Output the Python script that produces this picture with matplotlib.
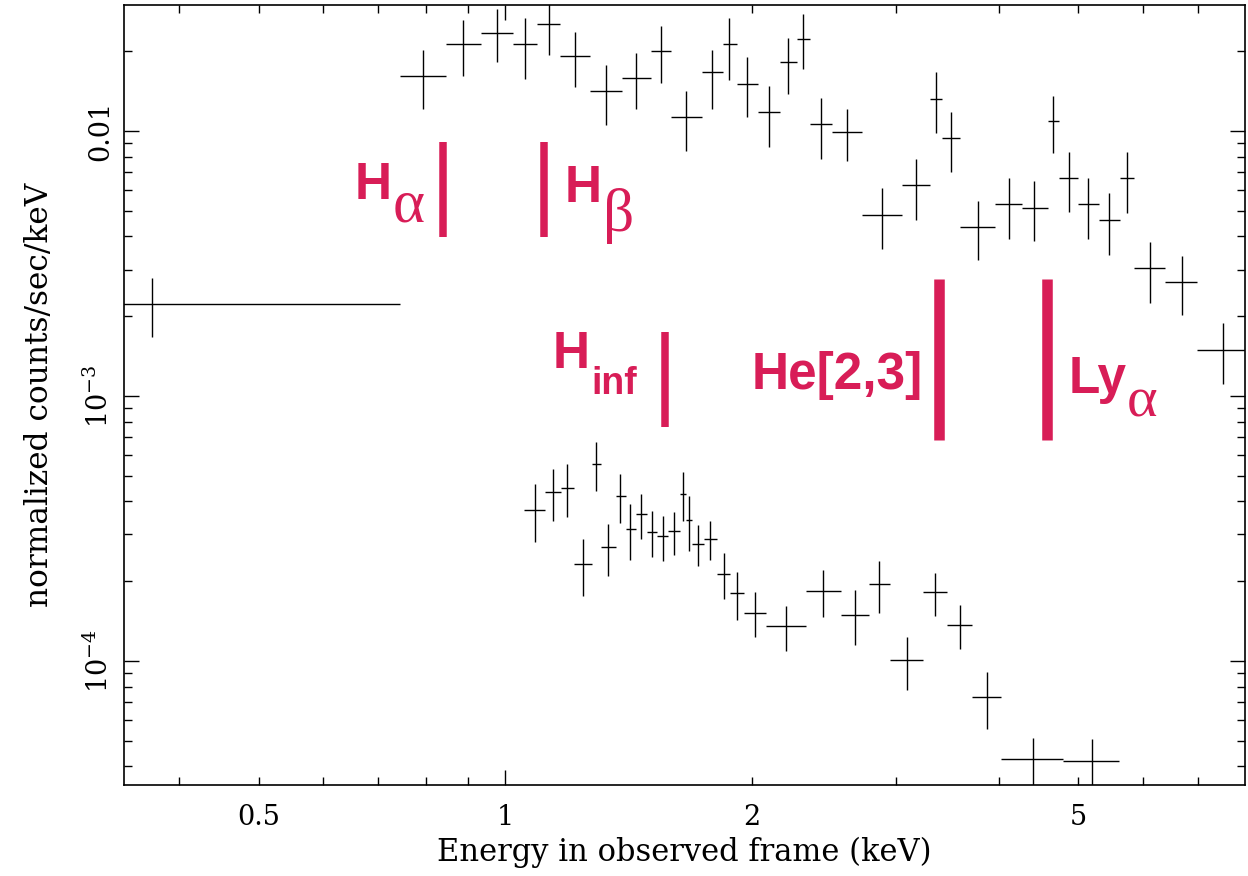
#!/usr/bin/env python3
"""
X-ray spectrum with line markers (two spectra, log-log).
"""

import matplotlib
matplotlib.use("Agg")
import numpy as np
import matplotlib.pyplot as plt
from matplotlib.ticker import LogLocator, FuncFormatter, NullFormatter

plt.rcParams["font.family"] = ["DejaVu Serif"]
plt.rcParams["mathtext.fontset"] = "dejavuserif"
plt.rcParams["axes.unicode_minus"] = False

LINE_COLOR = "#d81d57"

# upper spectrum (energy in keV, bin edges, flux and error bounds)
UPPER_ENERGY = [0.371, 0.794, 0.889, 0.978, 1.058, 1.131, 1.217, 1.328, 1.445, 1.550,
                1.662, 1.788, 1.876, 1.973, 2.099, 2.215, 2.310, 2.430, 2.614, 2.883,
                3.171, 3.354, 3.499, 3.774, 4.118, 4.417, 4.659, 4.874, 5.141, 5.454,
                5.735, 6.118, 6.692, 7.509]
UPPER_E_LO = [0.30, 0.743, 0.846, 0.934, 1.021, 1.094, 1.167, 1.270, 1.387, 1.505,
              1.592, 1.736, 1.842, 1.916, 2.032, 2.162, 2.268, 2.352, 2.502, 2.722,
              3.045, 3.294, 3.411, 3.583, 3.964, 4.265, 4.588, 4.745, 4.999, 5.295,
              5.632, 5.857, 6.390, 6.990]
UPPER_E_HI = [0.743, 0.846, 0.934, 1.021, 1.094, 1.167, 1.270, 1.387, 1.505, 1.592,
              1.736, 1.842, 1.916, 2.032, 2.162, 2.268, 2.352, 2.502, 2.722, 3.045,
              3.294, 3.411, 3.583, 3.964, 4.265, 4.588, 4.745, 4.999, 5.295, 5.632,
              5.857, 6.390, 6.990, 8.10]
UPPER_FLUX = [0.002225, 0.01613, 0.02130, 0.02343, 0.02130, 0.02534, 0.01919, 0.01415,
              0.01585, 0.02004, 0.01129, 0.01670, 0.02130, 0.01504, 0.01179, 0.01821,
              0.02224, 0.01063, 0.009913, 0.004819, 0.006255, 0.01321, 0.009410,
              0.004343, 0.005303, 0.005122, 0.01091, 0.006647, 0.005303, 0.004615,
              0.006647, 0.003041, 0.002693, 0.001491]
UPPER_FLUX_LO = [0.001669, 0.01211, 0.01613, 0.01821, 0.01571, 0.01935, 0.01466, 0.01053,
                 0.01211, 0.01517, 0.008406, 0.01211, 0.01557, 0.01129, 0.008702,
                 0.01379, 0.01714, 0.007841, 0.007706, 0.003587, 0.004615, 0.009828,
                 0.007003, 0.003260, 0.003913, 0.003845, 0.008260, 0.004946, 0.003913,
                 0.003404, 0.004904, 0.002244, 0.002021, 0.001110]
UPPER_FLUX_HI = [0.002788, 0.02021, 0.02623, 0.02886, 0.02669, 0.0310, 0.02363, 0.01774,
                 0.01969, 0.02490, 0.01415, 0.02021, 0.02669, 0.01902, 0.01478, 0.02243,
                 0.02764, 0.01332, 0.01211, 0.006094, 0.007841, 0.01670, 0.01179,
                 0.005443, 0.006647, 0.006476, 0.01355, 0.008333, 0.006647, 0.005834,
                 0.008333, 0.003812, 0.003375, 0.001886]

# lower spectrum
LOWER_ENERGY = [1.088, 1.144, 1.190, 1.245, 1.291, 1.336, 1.381, 1.421, 1.465, 1.511,
                1.559, 1.608, 1.649, 1.677, 1.720, 1.778, 1.850, 1.919, 2.018, 2.202,
                2.443, 2.673, 2.859, 3.092, 3.345, 3.588, 3.871, 4.405, 5.199]
LOWER_E_LO = [1.055, 1.119, 1.169, 1.212, 1.275, 1.308, 1.364, 1.403, 1.443, 1.488,
              1.532, 1.581, 1.632, 1.660, 1.689, 1.749, 1.811, 1.881, 1.954, 2.078,
              2.325, 2.566, 2.780, 2.944, 3.234, 3.459, 3.716, 4.021, 4.792]
LOWER_E_HI = [1.119, 1.169, 1.212, 1.275, 1.308, 1.364, 1.403, 1.443, 1.488, 1.532,
              1.581, 1.632, 1.660, 1.689, 1.749, 1.811, 1.881, 1.954, 2.078, 2.325,
              2.566, 2.780, 2.944, 3.234, 3.459, 3.716, 4.021, 4.792, 5.608]
LOWER_FLUX = [3.714e-4, 4.343e-4, 4.496e-4, 2.323e-4, 5.537e-4, 2.693e-4, 4.194e-4,
              3.149e-4, 3.587e-4, 3.068e-4, 2.963e-4, 3.095e-4, 4.268e-4, 3.404e-4,
              2.764e-4, 2.887e-4, 2.129e-4, 1.805e-4, 1.517e-4, 1.355e-4, 1.837e-4,
              1.491e-4, 1.953e-4, 1.009e-4, 1.821e-4, 1.367e-4, 7.313e-5, 4.268e-5,
              4.194e-5]
LOWER_FLUX_LO = [2.812e-4, 3.375e-4, 3.494e-4, 1.759e-4, 4.381e-4, 2.093e-4, 3.317e-4,
                 2.404e-4, 2.887e-4, 2.469e-4, 2.384e-4, 2.512e-4, 3.375e-4, 2.601e-4,
                 2.283e-4, 2.404e-4, 1.714e-4, 1.428e-4, 1.232e-4, 1.091e-4, 1.466e-4,
                 1.149e-4, 1.517e-4, 7.774e-5, 1.478e-4, 1.110e-4, 5.537e-5, 3.0e-5,
                 3.0e-5]
LOWER_FLUX_HI = [4.655e-4, 5.302e-4, 5.537e-4, 2.887e-4, 6.706e-4, 3.289e-4, 5.077e-4,
                 3.913e-4, 4.268e-4, 3.681e-4, 3.525e-4, 3.650e-4, 5.166e-4, 4.194e-4,
                 3.260e-4, 3.375e-4, 2.556e-4, 2.167e-4, 1.821e-4, 1.613e-4, 2.205e-4,
                 1.853e-4, 2.384e-4, 1.232e-4, 2.148e-4, 1.627e-4, 9.089e-5, 5.122e-5,
                 5.077e-5]

# emission line markers
LINE_ENERGY = [0.840, 1.114, 1.565, 3.378, 4.586]
LINE_TOP = [0.00909, 0.00909, 0.001744, 0.002763, 0.002763]
LINE_BOTTOM = [0.00398, 0.00398, 7.64e-4, 6.82e-4, 6.82e-4]

X_TICK_LABELS = {0.5: "0.5", 1.0: "1", 2.0: "2", 5.0: "5"}
Y_TICK_LABELS = {1e-2: "0.01", 1e-3: r"$10^{-3}$", 1e-4: r"$10^{-4}$"}


def draw_spectrum(ax, energy, e_lo, e_hi, flux, flux_lo, flux_hi):
    energy = np.array(energy)
    flux = np.array(flux)
    xerr = [energy - np.array(e_lo), np.array(e_hi) - energy]
    yerr = [flux - np.array(flux_lo), np.array(flux_hi) - flux]
    ax.errorbar(energy, flux, xerr=xerr, yerr=yerr, fmt="none",
                ecolor="black", elinewidth=1.0, capsize=0)


def x_label(val, pos):
    for k, s in X_TICK_LABELS.items():
        if abs(val - k) < 1e-6 * k:
            return s
    return ""


def y_label(val, pos):
    for k, s in Y_TICK_LABELS.items():
        if abs(val - k) < 1e-6 * k:
            return s
    return ""


def main():
    fig = plt.figure(figsize=(12.48, 8.76), dpi=100)
    ax = fig.add_axes([0.0994, 0.1039, 0.8978, 0.8904])

    draw_spectrum(ax, UPPER_ENERGY, UPPER_E_LO, UPPER_E_HI,
                  UPPER_FLUX, UPPER_FLUX_LO, UPPER_FLUX_HI)
    draw_spectrum(ax, LOWER_ENERGY, LOWER_E_LO, LOWER_E_HI,
                  LOWER_FLUX, LOWER_FLUX_LO, LOWER_FLUX_HI)

    widths = [5.4, 5.4, 5.4, 7.6, 7.6]
    for e, top, bot, lw in zip(LINE_ENERGY, LINE_TOP, LINE_BOTTOM, widths):
        ax.plot([e, e], [bot, top], color=LINE_COLOR, lw=lw,
                solid_capstyle="butt")

    # line labels: big bold letters + greek / small subscripts
    sans = ["Liberation Sans", "DejaVu Sans"]
    greek = ["Liberation Serif", "DejaVu Serif"]
    labels = [
        ("H", 0.654, 0.005537, 37, sans, "bold", "left"),
        ("α", 0.728, 0.004535, 44, greek, "normal", "left"),
        ("H", 1.180, 0.005397, 37, sans, "bold", "left"),
        ("β", 1.317, 0.004194, 44, greek, "normal", "left"),
        ("H", 1.141, 0.001276, 37, sans, "bold", "left"),
        ("inf", 1.273, 0.001017, 27, sans, "bold", "left"),
        ("He[2,3]", 3.234, 0.001063, 37, sans, "bold", "right"),
        ("Ly", 4.874, 0.001026, 37, sans, "bold", "left"),
        ("α", 5.735, 8.33e-4, 42, greek, "normal", "left"),
    ]
    for txt, x, y, size, fam, weight, ha in labels:
        ax.text(x, y, txt, color=LINE_COLOR, fontsize=size, family=fam,
                fontweight=weight, ha=ha, va="baseline")

    ax.set_xscale("log")
    ax.set_yscale("log")
    ax.set_xlim(0.3426, 7.98)
    ax.set_ylim(3.40e-5, 0.0299)

    ax.xaxis.set_major_locator(LogLocator(base=10, subs=(1.0,)))
    ax.xaxis.set_minor_locator(LogLocator(base=10, subs=np.arange(2, 10)))
    ax.xaxis.set_major_formatter(FuncFormatter(x_label))
    ax.xaxis.set_minor_formatter(FuncFormatter(x_label))
    ax.yaxis.set_major_locator(LogLocator(base=10, subs=(1.0,)))
    ax.yaxis.set_minor_locator(LogLocator(base=10, subs=np.arange(2, 10)))
    ax.yaxis.set_major_formatter(FuncFormatter(y_label))
    ax.yaxis.set_minor_formatter(NullFormatter())

    ax.tick_params(which="both", direction="in", top=True, right=True,
                   width=1.0, labelsize=19.5)
    ax.tick_params(which="major", length=11)
    ax.tick_params(which="minor", length=6)
    ax.tick_params(axis="x", which="both", pad=14)
    ax.tick_params(axis="y", which="both", pad=7)
    for lbl in ax.get_yticklabels():
        lbl.set_rotation(90)
        lbl.set_va("center")

    for sp in ax.spines.values():
        sp.set_linewidth(1.2)

    ax.set_xlabel("Energy in observed frame (keV)", fontsize=22, labelpad=4)
    ax.set_ylabel("normalized counts/sec/keV", fontsize=22.5, labelpad=22)

    fig.savefig("out.png", dpi=100)
    plt.close(fig)


if __name__ == "__main__":
    main()
